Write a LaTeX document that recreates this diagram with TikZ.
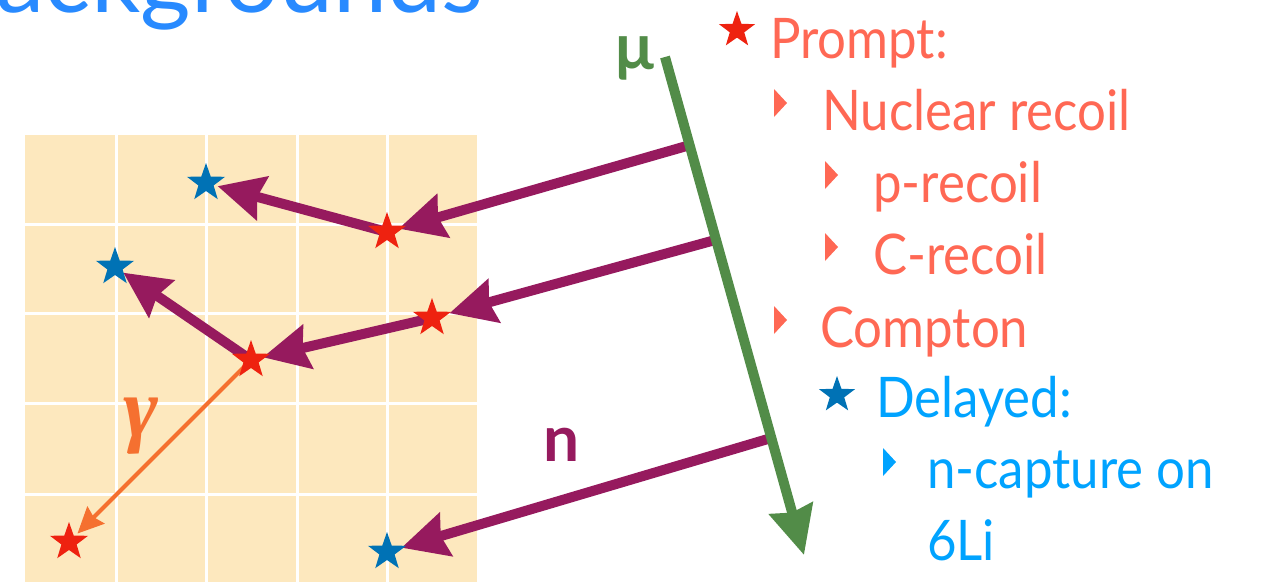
\documentclass[tikz,border=0pt]{standalone}
\usepackage{fontspec}
\setmainfont{Lato}
\newfontfamily\itemfont{Lato}[FakeStretch=0.91]
\newfontfamily\gamfont{Liberation Serif}
\usetikzlibrary{arrows.meta,shapes.geometric,backgrounds}
\definecolor{starred}{RGB}{238,34,16}
\definecolor{starblue}{RGB}{0,114,181}
\definecolor{trkpurple}{RGB}{150,26,94}
\definecolor{mugreen}{RGB}{82,140,72}
\definecolor{gamorange}{RGB}{245,112,48}
\definecolor{salmon}{RGB}{255,104,84}
\definecolor{skyblue}{RGB}{0,163,255}
\definecolor{titleblue}{RGB}{40,138,255}
\definecolor{cellbeige}{RGB}{253,232,190}
\tikzset{
  star5/.style={star,star points=5,star point ratio=2.5,minimum size=40pt,
                inner sep=0pt,draw=none},
  tri/.pic={\fill (0,-14) -- (13,0) -- (0,14) -- cycle;},
}

\begin{document}
\begin{tikzpicture}[
  x=1pt,y=-1pt,
  every node/.style={inner sep=0pt},
  rstar/.style={star5,fill=starred},
  bstar/.style={star5,fill=starblue},
  trk/.style={line width=10pt,trkpurple,
              -{Stealth[length=46pt,width=44pt,inset=5pt]},shorten >=12pt},
  gam/.style={line width=4pt,gamorange,
              -{Stealth[length=26pt,width=24pt,inset=3pt]},shorten >=12pt},
  item/.style={anchor=base west,font=\itemfont\fontsize{56}{60}\selectfont},
  lab/.style={font=\fontsize{64}{64}\selectfont\bfseries}
]
\useasboundingbox (0,0) rectangle (1266,581);
\clip (0,0) rectangle (1266,581);

% title, cut by the page edge
\node[anchor=base east,text=titleblue,font=\fontsize{97}{100}\selectfont]
  (ttl) at (484,12) {Backgrounds};

% event points
\node[bstar] (b1) at (206,183) {};
\node[rstar] (r1) at (387,232) {};
\node[bstar] (b2) at (115,267) {};
\node[rstar] (r2) at (432,318) {};
\node[rstar] (r3) at (251,360) {};
\node[rstar] (r4) at (69,542) {};
\node[bstar] (b3) at (387,552) {};

\coordinate (mu0) at (665,57);
\coordinate (mu1) at (804,555);
\path (mu0) -- (mu1)
  coordinate[pos=0.177] (h1)
  coordinate[pos=0.367] (h2)
  coordinate[pos=0.765] (h3);

\begin{scope}[on background layer]
  \fill[cellbeige] (25,135) rectangle (477,590);
  \foreach \gx in {116,206,297,387}
    \draw[white,line width=3pt] (\gx,135) -- (\gx,590);
  \foreach \gy in {224,313,403,494}
    \draw[white,line width=3pt] (25,\gy) -- (477,\gy);

  \draw[trk] (h1) -- (r1.center);
  \draw[trk] (r1.center) -- (b1.center);
  \draw[trk,shorten >=18pt] (h2) -- (r2.center);
  \draw[trk] (r2.center) -- (r3.center);
  \draw[trk,shorten >=10pt] (r3.center) -- (b2.center);
  \draw[trk,shorten >=15pt] (h3) -- (b3.center);
  \draw[gam] (r3.center) -- (r4.center);

  \draw[line width=10pt,mugreen,
        -{Stealth[length=48pt,width=44pt,inset=4pt]}] (mu0) -- (mu1);
\end{scope}

\node[lab,text=mugreen] (mu) at (635,58) {μ};
\node[lab,text=trkpurple] (nlab) at (562,445) {n};
\node[text=gamorange,font=\gamfont\fontsize{84}{84}\selectfont\bfseries\itshape]
  (glab) at (141,426) {γ};

% legend
\node[rstar,minimum size=38pt] (ls1) at (737,30) {};
\node[item,text=salmon] (t1) at (770,58) {Prompt:};
\pic[salmon] at (774,103) {tri};
\node[item,text=salmon] (t2) at (822,130) {Nuclear recoil};
\pic[salmon] at (825,175) {tri};
\node[item,text=salmon] (t3) at (873,202) {p-recoil};
\pic[salmon] at (825,247) {tri};
\node[item,text=salmon] (t4) at (873,274) {C-recoil};
\pic[salmon] at (774,320) {tri};
\node[item,text=salmon] (t5) at (820,347) {Compton};
\node[bstar,minimum size=38pt] (ls2) at (837,395) {};
\node[item,text=skyblue] (t6) at (876,417) {Delayed:};
\pic[skyblue] at (883,462) {tri};
\node[item,text=skyblue] (t7) at (927,488) {n-capture on};
\node[item,text=skyblue] (t8) at (927,560) {6Li};

\end{tikzpicture}
\end{document}
